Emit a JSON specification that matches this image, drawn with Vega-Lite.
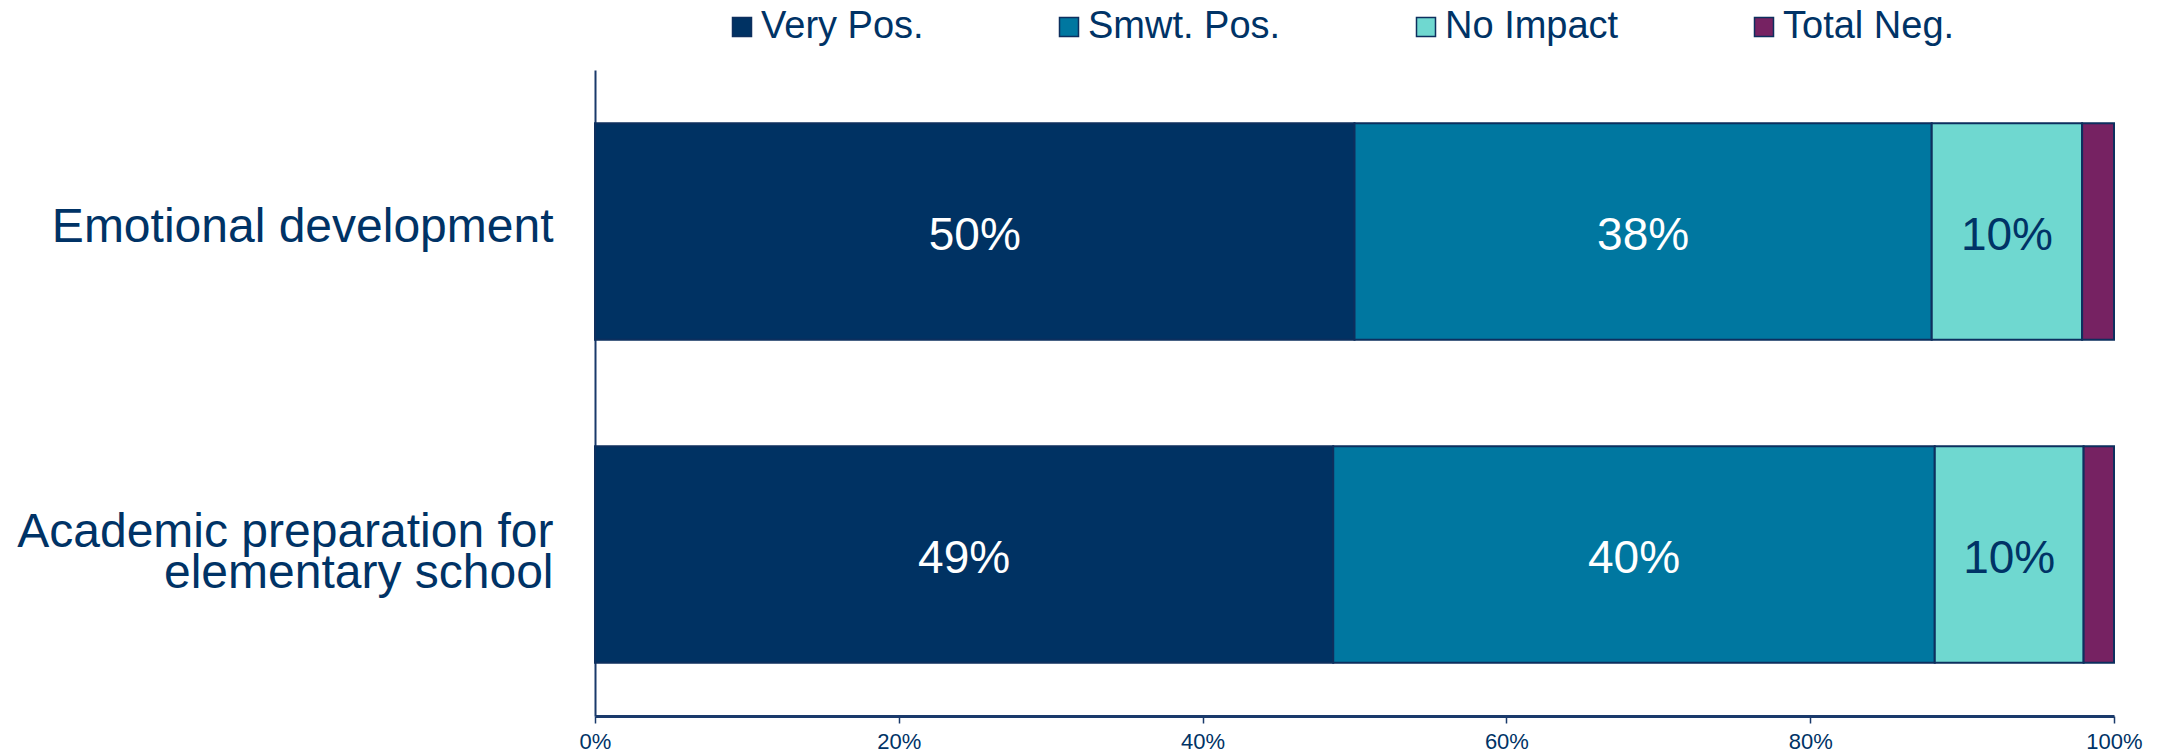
{
  "$schema": "https://vega.github.io/schema/vega-lite/v6.json",
  "autosize": "none",
  "width": 1519,
  "height": 646,
  "padding": {"left": 595, "top": 70, "right": 53, "bottom": 39},
  "background": "white",
  "config": {
    "view": {"stroke": null},
    "font": "Liberation Sans"
  },
  "data": {
    "values": [
      {"item": "Emotional development", "cat": "Very Pos.", "o": 1, "value": 0.50},
      {"item": "Emotional development", "cat": "Smwt. Pos.", "o": 2, "value": 0.38},
      {"item": "Emotional development", "cat": "No Impact", "o": 3, "value": 0.099},
      {"item": "Emotional development", "cat": "Total Neg.", "o": 4, "value": 0.021},
      {"item": "Academic preparation for|elementary school", "cat": "Very Pos.", "o": 1, "value": 0.486},
      {"item": "Academic preparation for|elementary school", "cat": "Smwt. Pos.", "o": 2, "value": 0.396},
      {"item": "Academic preparation for|elementary school", "cat": "No Impact", "o": 3, "value": 0.098},
      {"item": "Academic preparation for|elementary school", "cat": "Total Neg.", "o": 4, "value": 0.02}
    ]
  },
  "transform": [
    {"stack": "value", "groupby": ["item"], "sort": [{"field": "o"}], "as": ["v0", "v1"]}
  ],
  "encoding": {
    "y": {
      "field": "item",
      "type": "nominal",
      "sort": ["Emotional development", "Academic preparation for|elementary school"],
      "scale": {"paddingInner": 0.33},
      "axis": {
        "title": null,
        "domainColor": "#1a3a6b",
        "domainWidth": 2,
        "ticks": false,
        "labelFont": "Liberation Sans",
        "labelFontSize": 48,
        "labelColor": "#003366",
        "labelPadding": 42,
        "labelLimit": 700,
        "labelLineHeight": 41,
        "labelOffset": {"condition": {"test": "indexof(datum.value, '|') >= 0", "value": -22}, "value": -4},
        "labelExpr": "split(datum.label, '|')"
      }
    }
  },
  "layer": [
    {
      "mark": {"type": "bar", "stroke": "#0d2f5e", "strokeWidth": 2},
      "encoding": {
        "x": {
          "field": "v0",
          "type": "quantitative",
          "scale": {"domain": [0, 1], "nice": false},
          "axis": {
            "title": null,
            "values": [0, 0.2, 0.4, 0.6, 0.8, 1],
            "format": ".0%",
            "grid": false,
            "domainColor": "#1a3a6b",
            "domainWidth": 3,
            "tickColor": "#1a3a6b",
            "tickWidth": 1.5,
            "tickSize": 7,
            "labelPadding": 8,
            "labelFont": "Liberation Sans",
            "labelFontSize": 22,
            "labelColor": "#003366",
            "labelFlush": false
          }
        },
        "x2": {"field": "v1"},
        "color": {
          "field": "cat",
          "type": "nominal",
          "scale": {
            "domain": ["Very Pos.", "Smwt. Pos.", "No Impact", "Total Neg."],
            "range": ["#003263", "#0077a0", "#6fd8d0", "#762262"]
          },
          "legend": {
            "title": null,
            "orient": "none",
            "direction": "horizontal",
            "legendX": 128,
            "legendY": -62,
            "symbolType": "square",
            "symbolSize": 361,
            "symbolStrokeColor": "#0d2f5e",
            "symbolStrokeWidth": 1.5,
            "labelFont": "Liberation Sans",
            "labelFontSize": 38,
            "labelColor": "#003366",
            "labelOffset": 0,
            "columnPadding": 126,
            "labelLimit": 400
          }
        }
      }
    },
    {
      "transform": [
        {"fold": ["v0", "v1"], "as": ["edge", "pos"]},
        {"aggregate": [{"op": "mean", "field": "pos", "as": "mid"}, {"op": "max", "field": "value", "as": "val"}], "groupby": ["item", "cat"]},
        {"filter": "datum.val >= 0.05"}
      ],
      "mark": {"type": "text", "font": "Liberation Sans", "fontSize": 46, "baseline": "middle", "align": "center", "dy": 4},
      "encoding": {
        "x": {"field": "mid", "type": "quantitative"},
        "text": {"field": "val", "type": "quantitative", "format": ".0%"},
        "color": {
          "condition": {"test": "datum.cat === 'No Impact'", "value": "#003366"},
          "value": "white"
        }
      }
    }
  ]
}
